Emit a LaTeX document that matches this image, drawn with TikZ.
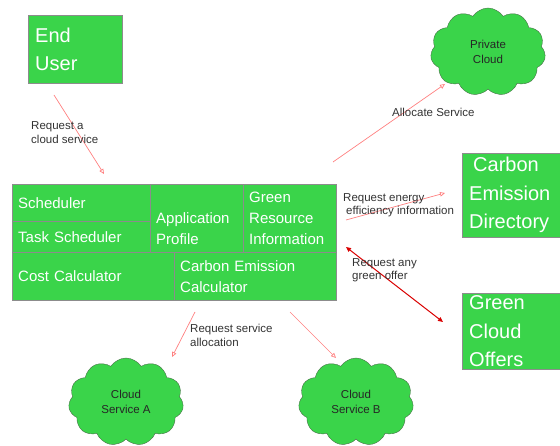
\documentclass[tikz,border=0pt]{standalone}
\usepackage{fontspec}
\setmainfont{Liberation Sans}
\usetikzlibrary{shapes.symbols,arrows.meta}

\begin{document}
\begin{tikzpicture}[x=1pt,y=-1pt]
  % Colors
  \definecolor{boxgreen}{RGB}{58,212,74}
  \definecolor{puffedge}{RGB}{72,112,72}
  \colorlet{edgecolor}{black!45}
  \colorlet{linkcolor}{red!50}
  \colorlet{offercolor}{red!85!black}
  \colorlet{labelcolor}{black!80}

  % Styles
  \tikzstyle{box}=[draw=edgecolor,fill=boxgreen,text=white,anchor=north west,align=left,inner ysep=0pt]
  \tikzstyle{big box}=[box,inner xsep=7pt,font=\fontsize{20}{28.5}\selectfont]
  \tikzstyle{cell}=[box,inner xsep=6pt,font=\fontsize{15}{21}\selectfont]
  \tikzstyle{puff}=[cloud,cloud puffs=11,cloud puff arc=115,cloud ignores aspect,
    draw=puffedge,fill=boxgreen,minimum width=115pt,minimum height=88pt,
    align=center,text=black!85,font=\fontsize{11.5}{14.5}\selectfont]
  \tikzstyle{link}=[linkcolor,line width=0.7pt,-{Triangle[open,length=5pt,width=4.5pt]}]
  \tikzstyle{link text}=[anchor=north west,inner sep=0pt,align=left,text=labelcolor,
    font=\fontsize{11.5}{13.5}\selectfont]

  \useasboundingbox (0,0) rectangle (560,446);

  % Outer boxes
  \node[big box,text width=80pt,minimum height=68pt] (user) at (28,15) {End\\User};
  \node[big box,text width=100pt,minimum height=84pt] (directory) at (462,153)
    {\hspace*{4pt}Carbon\\Emission\\Directory};
  \node[big box,text width=100pt,minimum height=76pt] (offers) at (462,293)
    {Green\\Cloud\\Offers};

  % The broker block
  \node[cell,text width=126pt,minimum height=37pt] (sched) at (12,184) {Scheduler};
  \node[cell,text width=126pt,minimum height=31pt] (task) at (12,221) {Task Scheduler};
  % first line sits on the middle, second one hangs below
  \node[cell,text width=81pt,minimum height=68pt,text height=10.7pt,text depth=0pt]
    (profile) at (150,184) {Application\\Profile};
  \node[cell,text width=81pt,minimum height=68pt] (resource) at (243,184)
    {Green\\Resource\\Information};
  \node[cell,text width=150pt,minimum height=48pt] (cost) at (12,252) {Cost Calculator};
  \node[cell,text width=150pt,minimum height=48pt] (emission) at (174,252)
    {Carbon Emission\\Calculator};

  % Clouds
  \node[puff] (private) at (488,52) {Private\\Cloud};
  \node[puff] (serviceA) at (126,402) {Cloud\\Service A};
  \node[puff] (serviceB) at (356,402) {Cloud\\Service B};

  % Connector ends
  \coordinate (user out) at (54,95);
  \coordinate (block in) at (104,174);
  \coordinate (alloc out) at (333,162);
  \coordinate (private in) at (445,84);
  \coordinate (energy out) at (346,220);
  \coordinate (directory in) at (445,193);
  \coordinate (offer a) at (346,247);
  \coordinate (offer b) at (443,322);
  \coordinate (A out) at (195,312);
  \coordinate (A in) at (172,357);
  \coordinate (B out) at (290,312);
  \coordinate (B in) at (336,358);

  % Connectors
  \draw[link] (user out) -- (block in);
  \draw[link] (alloc out) -- (private in);
  \draw[link] (energy out) -- (directory in);
  \draw[offercolor,line width=1pt,{Triangle[length=5pt,width=4.5pt]}-{Triangle[length=5pt,width=4.5pt]}]
    (offer a) -- (offer b);
  \draw[link] (A out) -- (A in);
  \draw[link] (B out) -- (B in);

  % Labels
  \node[link text] (ask) at (31,121.5) {Request a\\cloud service};
  \node[link text] (allocate) at (392,108) {Allocate Service};
  \node[link text] (energy) at (343,193) {Request energy\\\hspace*{3pt}efficiency information};
  \node[link text] (green offer) at (352,258) {Request any\\green offer};
  \node[link text] (allocation) at (190,324) {Request service\\allocation};
\end{tikzpicture}
\end{document}
